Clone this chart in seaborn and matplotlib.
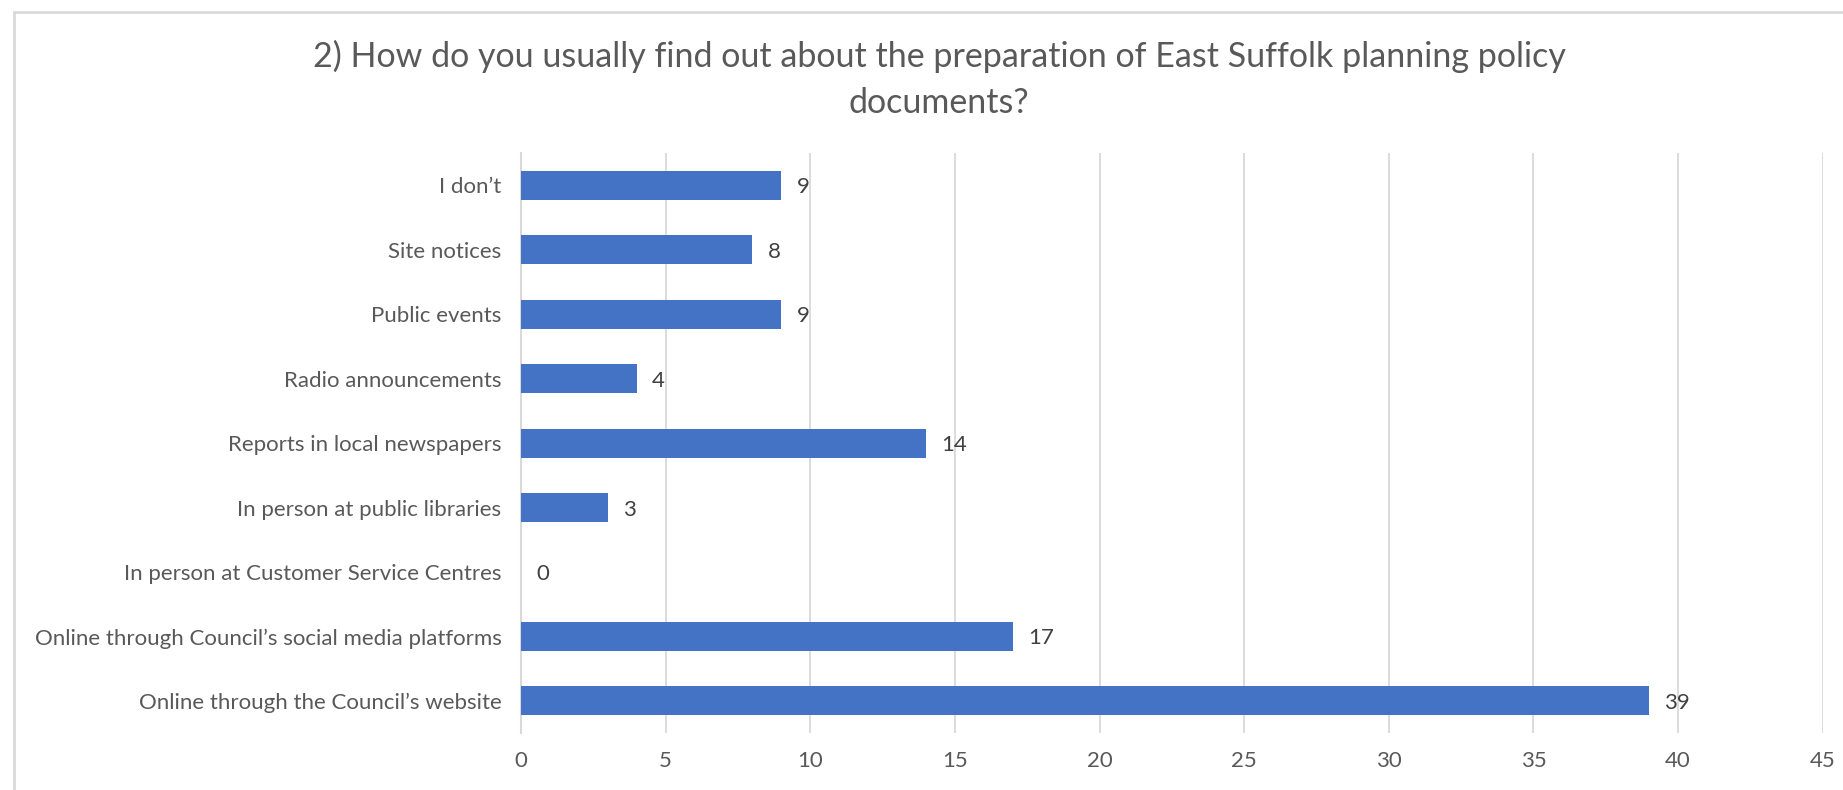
import pandas as pd
import seaborn as sns
import matplotlib.pyplot as plt
from matplotlib.patches import Rectangle
import numpy as np

# ==============================================================================
# DATA
# ==============================================================================

TITLE = "2) How do you usually find out about the preparation of East Suffolk planning policy\ndocuments?"

categories = [
    "I don\u2019t",
    "Site notices",
    "Public events",
    "Radio announcements",
    "Reports in local newspapers",
    "In person at public libraries",
    "In person at Customer Service Centres",
    "Online through Council\u2019s social media platforms",
    "Online through the Council\u2019s website",
]
counts = [9, 8, 9, 4, 14, 3, 0, 17, 39]
x_ticks = [0, 5, 10, 15, 20, 25, 30, 35, 40, 45]

BAR_COLOR = "#4472C4"
TEXT_COLOR = "#595959"
GRID_COLOR = "#D9D9D9"

# ==============================================================================
# PLOT
# ==============================================================================

sns.set_theme(style="white")
plt.rcParams["font.family"] = ["Lato", "DejaVu Sans"]

df = pd.DataFrame({"Resposta": categories, "Total": counts})

fig = plt.figure(figsize=(18.43, 7.9), dpi=100)
ax = fig.add_axes([0.2827, 0.072, 0.7063, 0.734])

sns.barplot(
    data=df,
    x="Total",
    y="Resposta",
    orient="h",
    color=BAR_COLOR,
    saturation=1,
    width=0.45,
    linewidth=0,
    ax=ax,
    zorder=3,
)

# rótulos de valor
for container in ax.containers:
    labels = ax.bar_label(container, fmt="%d", padding=11, fontsize=16, color="#404040")
    for t in labels:
        t.set_verticalalignment("center_baseline")

ax.set_xlim(0, 45)
ax.set_ylim(len(categories) - 0.5, -0.5)
ax.set_xticks(x_ticks)
ax.set_xlabel("")
ax.set_ylabel("")

# gridlines verticais
for v in x_ticks[1:]:
    ax.axvline(v, color=GRID_COLOR, lw=1.3, zorder=1)

for side in ["top", "right", "bottom"]:
    ax.spines[side].set_visible(False)
ax.spines["left"].set_color(GRID_COLOR)
ax.spines["left"].set_linewidth(1.5)

ax.tick_params(axis="x", length=0, labelsize=16, labelcolor=TEXT_COLOR, pad=13)
ax.tick_params(axis="y", which="major", length=0, labelsize=16, labelcolor=TEXT_COLOR, pad=14)
ax.set_yticks(np.arange(-0.5, len(categories), 1.0), minor=True)
ax.tick_params(axis="y", which="minor", length=6, width=1.5, color=GRID_COLOR)

fig.suptitle(TITLE, fontsize=24.5, color=TEXT_COLOR, x=0.5096, y=0.95, linespacing=1.55)

# borda externa do gráfico
fig.patches.append(Rectangle((14 / 1843, -0.1), 1.2, 1 - 12 / 790 + 0.1,
                             transform=fig.transFigure, fill=False,
                             edgecolor=GRID_COLOR, lw=2))

plt.savefig("out.png", dpi=100)
plt.close()
